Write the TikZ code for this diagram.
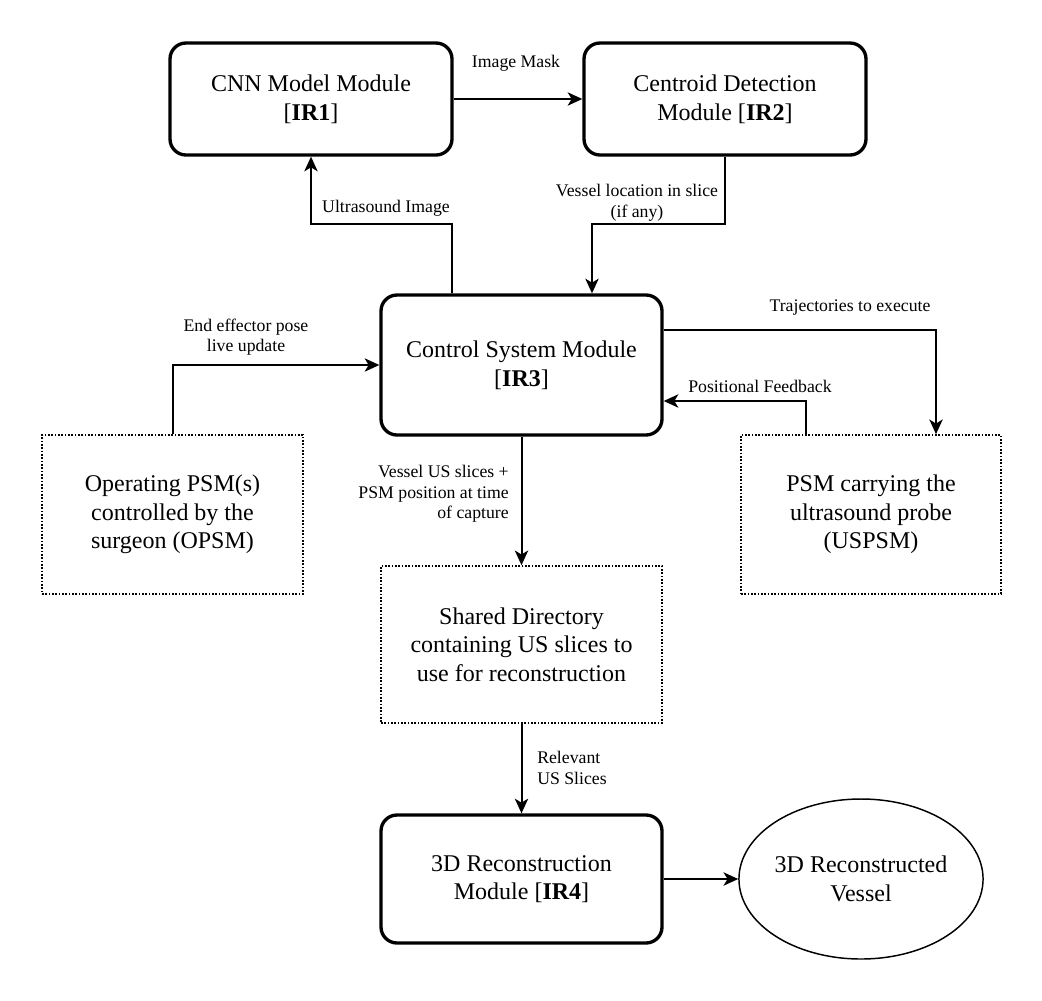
\documentclass[tikz,border=0pt]{standalone}
\usepackage{fontspec}
\setmainfont{Liberation Serif}
\usetikzlibrary{arrows.meta,shapes.geometric}
\begin{document}
\begin{tikzpicture}[x=0.75pt,y=-0.75pt,
  modbox/.style={draw, line width=2.5pt, rounded corners=12pt, align=center,
    font=\fontsize{18}{21.5}\selectfont, inner sep=0pt},
  dotbox/.style={draw, line width=1.2pt, dash pattern=on 1.2pt off 1.3pt, align=center,
    font=\fontsize{18}{21.5}\selectfont, inner sep=0pt},
  conn/.style={line width=1.5pt, -{Stealth[length=11pt,width=10pt,inset=3pt]}},
  lbl/.style={font=\fontsize{13.3}{15.5}\selectfont, align=center, inner sep=0pt}
]
\useasboundingbox (0,0) rectangle (1042,1000);

% modules
\node[modbox, minimum width=211.5pt, minimum height=84pt] (cnn) at (311,99)
  {CNN Model Module\\{[}\textbf{IR1}{]}};
\node[modbox, minimum width=211.5pt, minimum height=84pt] (cent) at (725,99)
  {Centroid Detection\\Module {[}\textbf{IR2}{]}};
\node[modbox, minimum width=210.75pt, minimum height=105pt] (ctrl) at (521.5,365)
  {Control System Module\\{[}\textbf{IR3}{]}};
\node[dotbox, minimum width=195.75pt, minimum height=119.25pt] (opsm) at (172.5,514.5)
  {Operating PSM(s)\\controlled by the\\surgeon (OPSM)};
\node[dotbox, minimum width=195pt, minimum height=119.25pt] (uspsm) at (871,514.5)
  {PSM carrying the\\ultrasound probe\\(USPSM)};
\node[dotbox, minimum width=210.75pt, minimum height=117.75pt] (shared) at (521.5,644.5)
  {Shared Directory\\containing US slices to\\use for reconstruction};
\node[modbox, minimum width=210.75pt, minimum height=96pt] (ir4) at (521.5,879)
  {3D Reconstruction\\Module {[}\textbf{IR4}{]}};
\node[draw, ellipse, line width=1.1pt, minimum width=180pt, minimum height=120pt,
  inner sep=0pt, align=center, font=\fontsize{18}{21.5}\selectfont] (vessel) at (861,879)
  {3D Reconstructed\\Vessel};

% labels
\node[lbl] (lmask) at (516,63) {Image Mask};
\node[lbl] (lus) at (386,208) {Ultrasound Image};
\node[lbl] (lvl) at (637,203) {Vessel location in slice\\(if any)};
\node[lbl] (lee) at (246,337) {End effector pose\\live update};
\node[lbl] (ltr) at (850,308) {Trajectories to execute};
\node[lbl] (lpf) at (760,386) {Positional Feedback};
\node[lbl, align=right, anchor=east] (lvs) at (509,494)
  {Vessel US slices +\\PSM position at time\\of capture};
\node[lbl, align=left, anchor=west] (lrel) at (537,768) {Relevant\\US Slices};

% bend points
\coordinate (cus) at (452,224);
\coordinate (cvl) at (592,224);
\coordinate (ctr) at (936,330);
\coordinate (cpf) at (806,401);

% connectors
\draw[conn] (cnn.east) -- (cent.west);
\draw[conn] (cus |- ctrl.north) -- (cus) -| (cnn.south);
\draw[conn] (cent.south) |- (cvl) -- (cvl |- ctrl.north);
\draw[conn] (opsm.north) |- (ctrl.west);
\draw[conn] (ctrl.east |- ctr) -- (ctr) -- (ctr |- uspsm.north);
\draw[conn] (cpf |- uspsm.north) -- (cpf) -- (cpf -| ctrl.east);
\draw[conn] (ctrl.south) -- (shared.north);
\draw[conn] (shared.south) -- (ir4.north);
\draw[conn] (ir4.east) -- (vessel.west);
\end{tikzpicture}
\end{document}
